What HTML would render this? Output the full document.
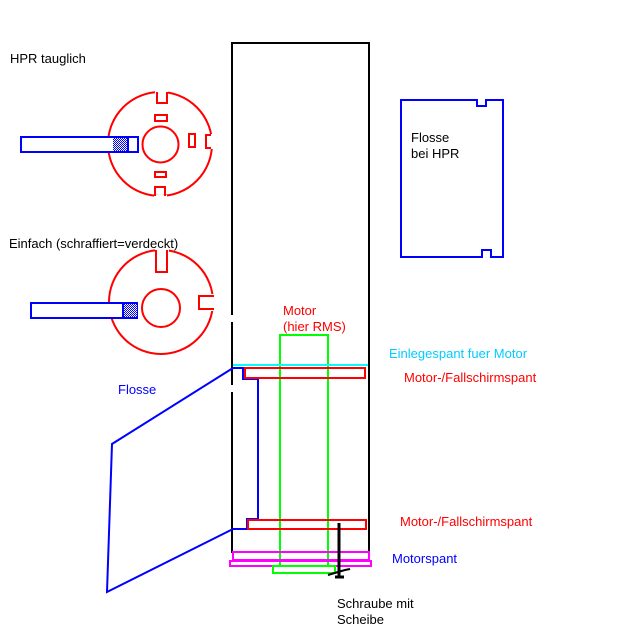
<!DOCTYPE html>
<html><head><style>
html,body{margin:0;padding:0;background:#fff;}
svg{display:block;}
text{font-family:"Liberation Sans",sans-serif;font-size:13px;}
</style></head><body>
<svg width="617" height="635" viewBox="0 0 617 635" xmlns="http://www.w3.org/2000/svg">
<defs>
<pattern id="h" width="2" height="2" patternUnits="userSpaceOnUse">
<rect width="2" height="2" fill="#fff"/><rect width="1" height="1" fill="#00f"/><rect x="1" y="1" width="1" height="1" fill="#00f"/>
</pattern>
</defs>
<g fill="none" stroke-width="2">
<!-- tube -->
<polyline points="232,315 232,43 369,43 369,553" stroke="#000"/>
<line x1="232" y1="322" x2="232" y2="385" stroke="#000"/>
<line x1="232" y1="392" x2="232" y2="553" stroke="#000"/>

<!-- top disc -->
<g stroke="#f00">
<path d="M157,92 A52,52 0 1 0 163,92 Z" stroke="none"/>
<circle cx="160" cy="144" r="52"/>
<circle cx="160.5" cy="144.5" r="18"/>
<rect x="155" y="115" width="12" height="6"/>
<rect x="155" y="172" width="11" height="5"/>
<rect x="189" y="134" width="6" height="13"/>
<polyline points="157,93 157,103 167,103 167,93" stroke="#f00"/>
<polyline points="155,196 155,187 165,187 165,196"/>
<polyline points="211,135 206,135 206,148 211,148"/>
</g>
<rect x="155" y="90" width="13" height="4" fill="#fff" stroke="none"/>
<rect x="154" y="195" width="13" height="4" fill="#fff" stroke="none"/>
<rect x="210" y="134" width="4" height="15" fill="#fff" stroke="none"/>
<line x1="157" y1="92" x2="157" y2="103" stroke="#f00"/>
<line x1="167" y1="92" x2="167" y2="103" stroke="#f00"/>
<line x1="155" y1="196" x2="155" y2="187" stroke="#f00"/>
<line x1="165" y1="196" x2="165" y2="187" stroke="#f00"/>
<line x1="211" y1="135" x2="206" y2="135" stroke="#f00"/>
<line x1="211" y1="148" x2="206" y2="148" stroke="#f00"/>

<!-- top bar -->
<rect x="21" y="137" width="117" height="15" fill="#fff" stroke="#00f"/>
<rect x="113" y="138" width="15" height="13" fill="url(#h)" stroke="none"/>
<line x1="128" y1="137" x2="128" y2="152" stroke="#00f"/>

<!-- bottom disc -->
<g stroke="#f00">
<circle cx="161" cy="302" r="52"/>
<circle cx="161" cy="308" r="19"/>
</g>
<rect x="155" y="248" width="14" height="4" fill="#fff" stroke="none"/>
<rect x="211" y="294" width="5" height="17" fill="#fff" stroke="none"/>
<polyline points="156,250 156,272 167,272 167,250" stroke="#f00"/>
<polyline points="214,296 199,296 199,309 214,309" stroke="#f00"/>

<!-- bottom bar -->
<rect x="31" y="303" width="106" height="15" fill="#fff" stroke="#00f"/>
<rect x="124" y="304" width="13" height="13" fill="url(#h)" stroke="none"/>
<line x1="123" y1="303" x2="123" y2="318" stroke="#00f"/>

<!-- right fin -->
<polygon points="401,100 477,100 477,106 486,106 486,100 503,100 503,257 491,257 491,250 482,250 482,257 401,257" stroke="#00f"/>

<!-- side fin -->
<polyline points="233,368 112,444 107,592 233,529" stroke="#00f"/>
<polyline points="233,368 243,368 243,379 258,379 258,519 247,519 247,529 233,529" stroke="#00f"/>

<!-- motor -->
<rect x="280" y="335" width="48" height="231" stroke="#0f0"/>
<line x1="233" y1="365" x2="368" y2="365" stroke="#0ff"/>
<rect x="245" y="368" width="120" height="10" stroke="#f00"/>
<rect x="248" y="520" width="118" height="9" stroke="#f00"/>
<rect x="233" y="552" width="136" height="8" stroke="#f0f"/>
<rect x="230" y="561" width="141" height="5" stroke="#f0f"/>
<rect x="273" y="566" width="62" height="7" stroke="#0f0"/>
<line x1="339" y1="523" x2="339" y2="577" stroke="#000" stroke-width="3"/>
<polyline points="328,575 338,572 345,570 350,569" stroke="#000"/>
<line x1="335" y1="577" x2="344" y2="577" stroke="#000" stroke-width="3"/>
</g>

<text x="10" y="63" fill="#000">HPR tauglich</text>
<text x="9" y="248" fill="#000">Einfach (schraffiert=verdeckt)</text>
<text x="118" y="394" fill="#00f">Flosse</text>
<text x="411" y="142" fill="#000">Flosse</text>
<text x="411" y="158" fill="#000">bei HPR</text>
<text x="283" y="315" fill="#f00">Motor</text>
<text x="283" y="331" fill="#f00">(hier RMS)</text>
<text x="389" y="358" fill="#0cf">Einlegespant fuer Motor</text>
<text x="404" y="382" fill="#f00">Motor-/Fallschirmspant</text>
<text x="400" y="526" fill="#f00">Motor-/Fallschirmspant</text>
<text x="392" y="563" fill="#00f">Motorspant</text>
<text x="337" y="608" fill="#000">Schraube mit</text>
<text x="337" y="624" fill="#000">Scheibe</text>
</svg>
</body></html>
